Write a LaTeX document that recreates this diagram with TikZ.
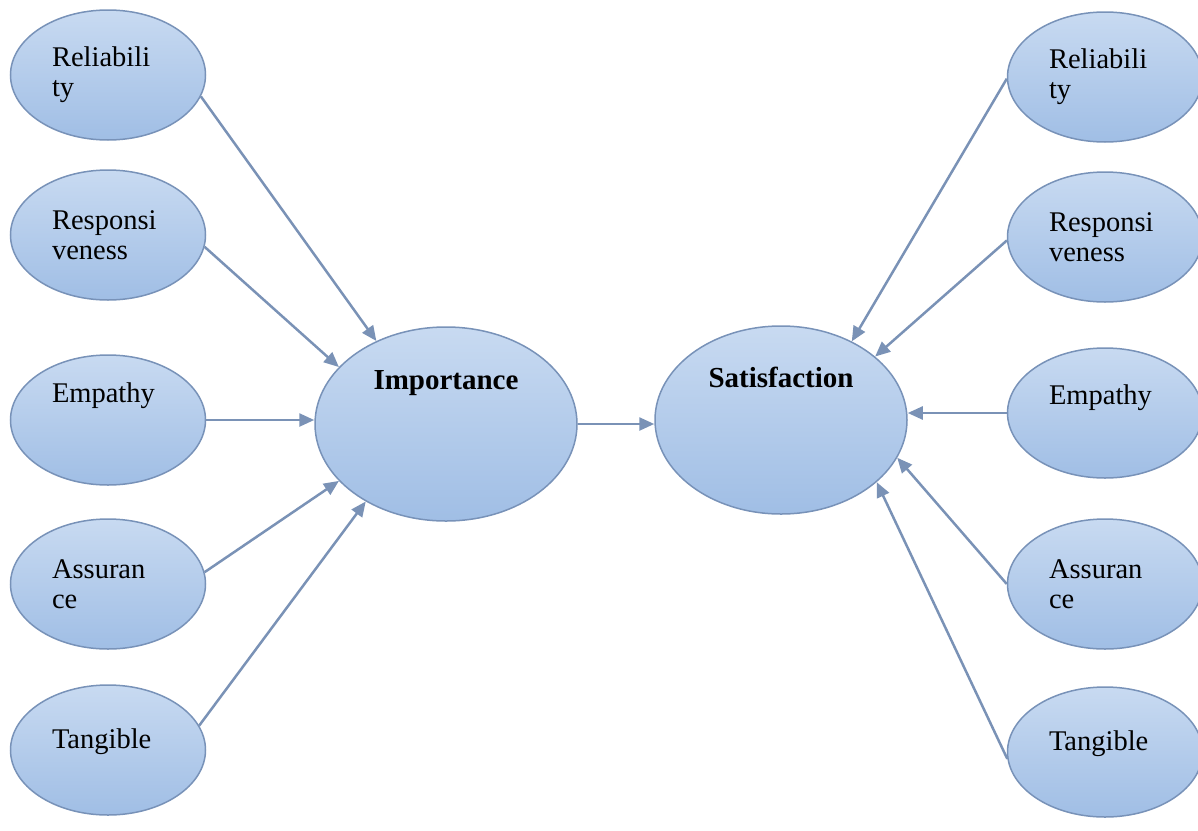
\documentclass[tikz,border=0pt]{standalone}
\usepackage{fontspec}
\setmainfont{Liberation Serif}
\usetikzlibrary{shapes.geometric,arrows.meta}

\definecolor{ovaltop}{RGB}{200,218,241}
\definecolor{ovalbot}{RGB}{160,190,229}
\definecolor{ovalline}{RGB}{120,146,184}
\definecolor{arrowline}{RGB}{122,146,182}

\begin{document}
\begin{tikzpicture}[x=1pt, y=-1pt, >={Triangle[length=15pt,width=13pt]},
  every node/.style={font=\fontsize{28.5}{30}\selectfont},
  dim/.style={ellipse, draw=ovalline, line width=1.5pt, top color=ovaltop, bottom color=ovalbot,
    minimum width=195pt, minimum height=130pt, inner sep=0pt, text width=112pt, align=left},
  core/.style={ellipse, draw=ovalline, line width=1.5pt, top color=ovaltop, bottom color=ovalbot,
    inner sep=0pt, font=\fontsize{29}{30}\selectfont\bfseries, text height=20pt},
  link/.style={->, draw=arrowline, line width=2.5pt}]
\useasboundingbox (0,0) rectangle (1198,830);

% service quality dimensions, left column
\node[dim] (l-rel) at (108,75) {Reliabili\\ty};
\node[dim] (l-res) at (108,235) {Responsi\\veness};
\node[dim, text height=18pt, text depth=54pt] (l-emp) at (108,420) {Empathy};
\node[dim] (l-ass) at (108,584) {Assuran\\ce};
\node[dim, text height=18pt, text depth=22pt] (l-tan) at (108,750) {Tangible};

% right column
\node[dim] (r-rel) at (1105,77) {Reliabili\\ty};
\node[dim] (r-res) at (1105,237) {Responsi\\veness};
\node[dim, text height=18pt, text depth=36pt] (r-emp) at (1105,413) {Empathy};
\node[dim] (r-ass) at (1105,584) {Assuran\\ce};
\node[dim, text height=18pt, text depth=22pt] (r-tan) at (1105,752) {Tangible};

% the two constructs
\node[core, minimum width=262pt, minimum height=194pt, text depth=90pt] (imp) at (446,424) {Importance};
\node[core, minimum width=252pt, minimum height=188pt, text depth=86pt] (sat) at (781,420) {Satisfaction};

\draw[link] (l-rel.-13) -- (imp.130);
\draw[link] (l-res.-7) -- (imp.152);
\draw[link] (l-emp.east) -- (l-emp.east -| imp.west);
\draw[link] (l-ass.7) -- (imp.208);
\draw[link] (l-tan.15) -- (imp.224);

\draw[link] (imp.east) -- (imp.east -| sat.west);

\draw[link] (r-rel.181) -- (sat.48);
\draw[link] (r-res.182) -- (sat.34);
\draw[link] (r-emp.west) -- (r-emp.west -| sat.east);
\draw[link] (r-ass.180) -- (sat.-18);
\draw[link] (r-tan.184) -- (sat.-33);
\end{tikzpicture}
\end{document}
